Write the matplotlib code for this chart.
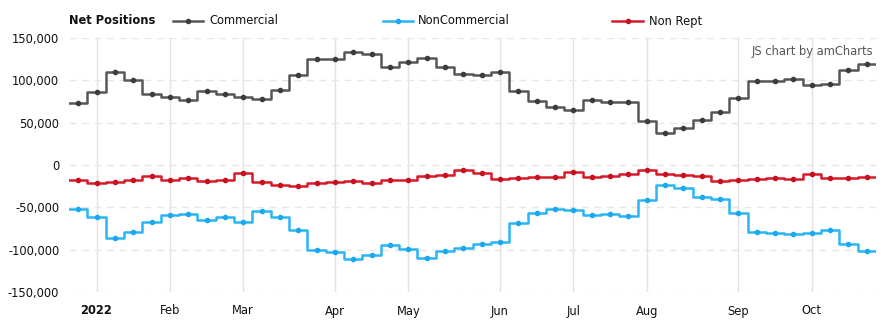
import numpy as np
import matplotlib
matplotlib.use('Agg')
import matplotlib.pyplot as plt
from matplotlib.lines import Line2D
from matplotlib.ticker import FuncFormatter

# weekly net positions, 2021-12-28 .. 2022-10-25
weeks = np.arange(44)
commercial = [72900, 85800, 109900, 100500, 83500, 80000, 76400, 87500, 83500, 80000,
              77600, 88700, 105900, 125600, 125600, 133500, 131100, 115300, 121700, 126000,
              115300, 107100, 105900, 110300, 87000, 75700, 68200, 64600, 76900, 74100,
              74100, 51700, 37500, 43400, 52800, 62300, 78800, 98800, 98800, 101200,
              94100, 95300, 111800, 118900]
noncommercial = [-52100, -61500, -86300, -79200, -67500, -59200, -57600, -65100, -61500, -67500,
                 -54000, -61500, -76400, -100000, -102400, -111100, -106400, -94600, -98800, -109900,
                 -101700, -98100, -93400, -91000, -68200, -56400, -51700, -52800, -59200, -57600,
                 -60400, -41500, -23400, -27300, -37900, -40300, -56400, -78800, -80400, -81600,
                 -80400, -76400, -93400, -101700]
non_rept = [-17900, -21500, -19900, -17900, -12800, -17900, -15500, -19100, -17900, -9600,
            -20300, -23400, -25000, -21500, -19900, -18700, -21500, -17900, -17900, -13200,
            -11600, -5700, -9600, -16700, -15500, -14400, -14400, -8100, -14400, -12800,
            -10400, -6100, -10400, -12000, -13200, -19100, -17900, -16700, -15500, -16700,
            -10400, -15500, -15500, -14400]

# first week of each month
month_idx = [1, 5, 9, 14, 18, 23, 27, 31, 36, 40]
month_lbl = ['2022', 'Feb', 'Mar', 'Apr', 'May', 'Jun', 'Jul', 'Aug', 'Sep', 'Oct']

series = [('Commercial', commercial, '#575757', '#3c3c3c'),
          ('NonCommercial', noncommercial, '#2bb5f5', '#1aa8ee'),
          ('Non Rept', non_rept, '#d61a2a', '#c8101e')]

plt.rcParams['font.family'] = 'DejaVu Sans'
fig = plt.figure(figsize=(8.89, 3.26), dpi=100)
W, H = 889, 326
ax = fig.add_axes([69 / W, (H - 292) / H, (876 - 69) / W, (292 - 38) / H])

for name, vals, col, mcol in series:
    ax.plot(weeks, vals, drawstyle='steps-mid', color=col, lw=1.8, zorder=3)
    ax.plot(weeks, vals, 'o', ms=3.0, color=mcol, zorder=4)
    # extend half steps at the ends
    ax.plot([-0.5, 0], [vals[0], vals[0]], color=col, lw=1.8, zorder=3)
    ax.plot([43, 43.5], [vals[-1], vals[-1]], color=col, lw=1.8, zorder=3)

ax.set_xlim(-0.5, 43.5)
ax.set_ylim(-150000, 150000)
ax.set_yticks(np.arange(-150000, 150001, 50000))
ax.yaxis.set_major_formatter(FuncFormatter(lambda v, p: f'{int(v):,}'))
ax.set_xticks(month_idx)
ax.set_xticklabels(month_lbl)
ax.get_xticklabels()[0].set_fontweight('bold')
ax.tick_params(length=0, labelsize=8.3, colors='#111111', pad=7)
ax.tick_params(axis='x', pad=9)
for s in ax.spines.values():
    s.set_visible(False)
ax.grid(axis='y', color='#e6e6e6', ls=(0, (5, 4)), lw=1)
ax.grid(axis='x', color='#e2e2e2', ls='-', lw=1)
ax.set_axisbelow(True)

ax.text(0.996, 0.945, 'JS chart by amCharts', transform=ax.transAxes, ha='right',
        va='center', fontsize=8.3, color='#555555')

# legend row
fig.text(69 / W, 1 - 21 / H, 'Net Positions', fontsize=8.3, fontweight='bold',
         va='center', ha='left', color='#111111')
leg_x = [(173, 203, 209), (383, 413, 418), (612, 643, 649)]
for (name, vals, col, mcol), (x0, x1, xt) in zip(series, leg_x):
    yy = 1 - 21 / H
    fig.add_artist(Line2D([x0 / W, x1 / W], [yy, yy], color=col, lw=1.8))
    fig.add_artist(Line2D([(x0 + x1) / 2 / W], [yy], marker='o', ms=3.0, color=mcol))
    fig.text(xt / W, yy, name, fontsize=8.3, va='center', ha='left', color='#111111')

fig.savefig('out.png', dpi=100)
